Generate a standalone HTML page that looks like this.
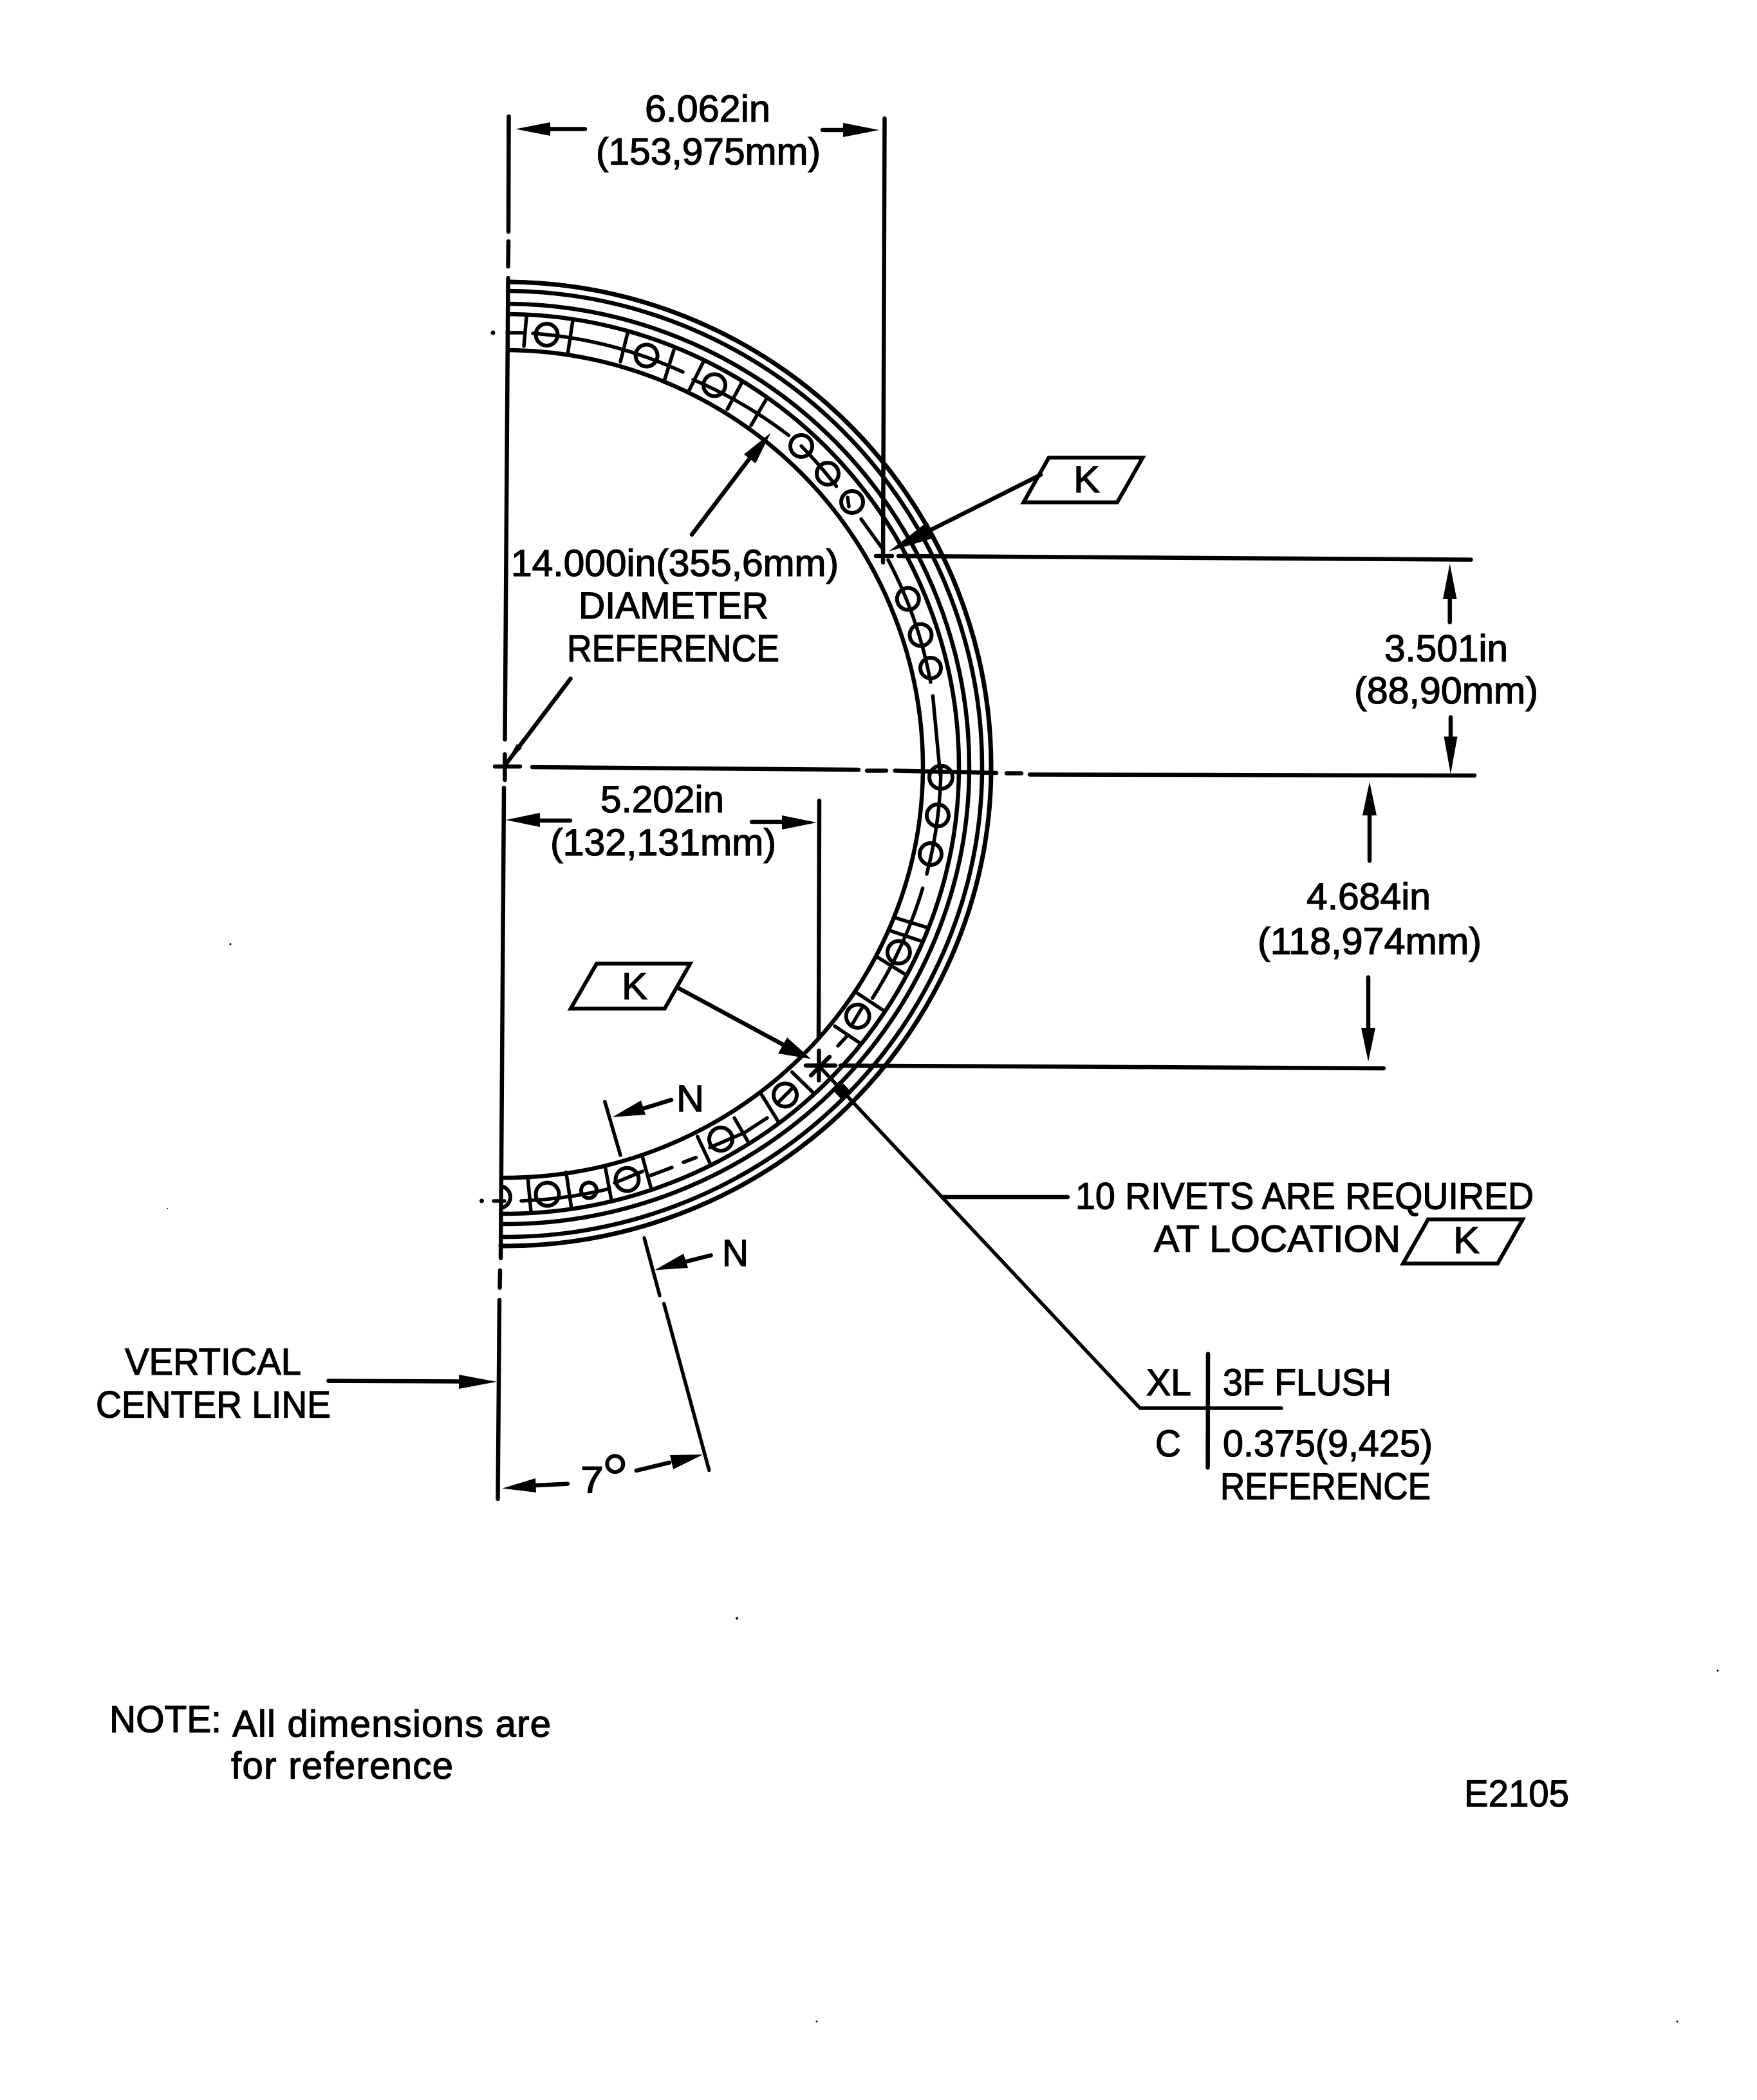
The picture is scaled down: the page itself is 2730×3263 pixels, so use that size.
<!DOCTYPE html>
<html><head><meta charset="utf-8"><style>
html,body{margin:0;padding:0;background:#fff}
svg{display:block}
text{font-family:"Liberation Sans",Arial,sans-serif;font-size:58px;fill:#000;stroke:#000;stroke-width:1.3px}
.l{stroke:#000;stroke-width:6.5;fill:none;stroke-linecap:round}
.t{stroke:#000;stroke-width:5.5;fill:none;stroke-linecap:round}
.c{stroke:#000;stroke-width:6;fill:none}
</style></head><body>
<svg xmlns="http://www.w3.org/2000/svg" width="2730" height="3263" viewBox="0 0 2730 3263">
<rect width="2730" height="3263" fill="#fff"/>

<!-- rings -->
<g transform="rotate(0.47 784 1192)">
<path class="l" style="stroke-width:7" d="M784,438 A756,754 0 0 1 1540,1192 A756,744 0 0 1 784,1936"/>
<path class="l" d="M784,452 A742,740 0 0 1 1526,1192 A742,730 0 0 1 784,1922"/>
<path class="l" d="M784,472 A722,720 0 0 1 1506,1192 A722,710 0 0 1 784,1902"/>
<path class="l" d="M784,488 A706,704 0 0 1 1490,1192 A706,694 0 0 1 784,1886"/>
<path class="l" d="M784,544 A650,648 0 0 1 1434,1192 A650,638 0 0 1 784,1830"/>
</g>

<!-- main vertical center line -->
<path class="l" d="M790.5,181L790,360M790,375L789.5,414M789.5,432L784.5,1149M783,1224L778,1955M777,1974L776.5,2001M776,2020L773.5,2329"/>
<!-- center cross -->
<path class="l" d="M769,1191H808M784.4,1172V1212"/>
<!-- horizontal centre line -->
<path class="l" d="M827,1192L1334,1196M1347,1197.5L1377,1197.5M1390.6,1197.5L1548,1201M1564,1201.5L1587,1201.5M1600,1203.5L2291,1205"/>

<!-- bolt line segments -->
<path class="t" d="M828,518A676,676 0 0 1 1061,578"/>
<path class="t" d="M1077,590A676,676 0 0 1 1225.5,676.5"/>
<path class="t" d="M1245,693A676,676 0 0 1 1299.5,755.6"/>
<path class="t" d="M1317,773L1319,787"/>
<path class="t" d="M1338,806.6L1373,855"/>
<path class="t" d="M1380,870A676,676 0 0 1 1446,1060"/>
<path class="t" d="M1449.4,1081.4L1461,1204"/>
<path class="t" d="M1462,1190A676,676 0 0 1 1440,1358"/>
<path class="t" d="M1433.7,1380A676,676 0 0 1 1355.6,1551"/>
<path class="t" d="M1340,1565L1325,1590M1315,1611L1302,1625M1232,1690L1210,1712"/>
<path class="t" d="M1192,1737L1156.6,1760L1103,1783"/>
<path class="t" d="M1044,1814L1011,1826.5M1081.6,1798.5L1062,1806M998.5,1820L955,1838"/>
<path class="t" d="M947,1847A676,676 0 0 1 810,1866"/>
<path class="t" d="M788,517H811"/>
<path class="t" d="M767,1866H784"/>

<!-- radial ticks -->
<path class="t" d="M818,492L814,538M890,498L882.6,546.5M975.5,516L964,562M1047,544L1033,589M1093,562L1070,608M1154,592L1130,636M1192,618L1167,661
M1391,1426L1440,1441M1384,1446.4L1429.6,1461.7M1363,1487L1406.6,1514M1328.6,1541L1371,1569M1297,1594.4L1335,1620M1230.6,1665.8L1262,1696.4M1183.7,1701.5L1209,1742.3M1141,1737L1161.7,1773M1083.7,1766L1103,1807M998.5,1798.5L1011,1844M940,1811L950,1865M879.6,1821.4L887.8,1876.5M820,1829L825,1882.6"/>

<!-- holes -->
<circle class="c" cx="849.5" cy="520" r="17"/>
<circle class="c" cx="1004.6" cy="552.5" r="17"/>
<circle class="c" cx="1110" cy="598.5" r="17"/>
<circle class="c" cx="1245" cy="693" r="17"/>
<circle class="c" cx="1286" cy="736" r="17"/>
<circle class="c" cx="1324" cy="780" r="17"/>
<circle class="c" cx="1410.8" cy="930.6" r="17"/>
<circle class="c" cx="1430.5" cy="986.7" r="17"/>
<circle class="c" cx="1446" cy="1038" r="16"/>
<circle class="c" cx="1462" cy="1207.7" r="18"/>
<circle class="c" cx="1457" cy="1267" r="17"/>
<circle class="c" cx="1446" cy="1327" r="17"/>
<circle class="c" cx="1396.4" cy="1479.6" r="17.5"/>
<circle class="c" cx="1332.7" cy="1579" r="18"/>
<circle class="c" cx="1220" cy="1701.5" r="18"/>
<circle class="c" cx="1120" cy="1770" r="18"/>
<circle class="c" cx="974.5" cy="1832.7" r="18"/>
<circle class="c" cx="915" cy="1849.5" r="12"/>
<circle class="c" cx="850.5" cy="1855.6" r="18"/>
<path class="c" d="M776,1843A17,17 0 0 1 776,1877"/>

<!-- specks -->
<circle cx="766" cy="517" r="3.5"/>
<circle cx="748.5" cy="1866" r="3.5"/>
<circle cx="358" cy="1467" r="1.5"/>
<circle cx="1145" cy="2514.6" r="2"/>
<circle cx="1269" cy="3141" r="1.5"/>
<circle cx="2606" cy="3141" r="1.5"/>
<circle cx="2669" cy="2596" r="1.5"/>
<circle cx="260" cy="1878" r="1"/>

<!-- top dimension -->
<path class="l" d="M1374.5,184L1372,874"/>
<path class="l" d="M855,200.5H909"/><polygon points="801,200.5 855,190 855,211"/>
<path class="l" d="M1278,202H1320"/><polygon points="1366,202 1310,191 1310,213"/>
<text x="1002" y="189" textLength="195" lengthAdjust="spacingAndGlyphs">6.062in</text>
<text x="926" y="255.6" textLength="349" lengthAdjust="spacingAndGlyphs">(153,975mm)</text>

<!-- diameter -->
<path class="l" d="M1075,830.6L1165,712"/><polygon points="1197.5,672.5 1174,720 1156,706"/>
<path class="l" d="M886.6,1054.5L784.4,1189.4"/><polygon points="784.4,1189.4 803,1156 811,1162"/>
<text x="794" y="895" textLength="509" lengthAdjust="spacingAndGlyphs">14.000in(355,6mm)</text>
<text x="899" y="961" textLength="295" lengthAdjust="spacingAndGlyphs">DIAMETER</text>
<text x="881" y="1027.5" textLength="330" lengthAdjust="spacingAndGlyphs">REFERENCE</text>

<!-- K top -->
<polygon class="c" points="1629.7,711 1775.6,711 1736,780.5 1590.4,780.5"/>
<text x="1668" y="765" textLength="41" lengthAdjust="spacingAndGlyphs">K</text>
<path class="l" d="M1617,737.7L1445,824"/><polygon points="1380.7,857 1441,811 1454,835"/>
<!-- line at K top rivet -->
<path class="l" d="M1361,864H1386M1396,864L2285.6,869.6"/>

<!-- 3.501 -->
<path class="l" d="M2252.7,930V967"/><polygon points="2252.7,875.9 2242,931 2263.5,931"/>
<text x="2151" y="1027.4" textLength="192" lengthAdjust="spacingAndGlyphs">3.501in</text>
<text x="2104" y="1093" textLength="286" lengthAdjust="spacingAndGlyphs">(88,90mm)</text>
<path class="l" d="M2254,1114.4V1146"/><polygon points="2254,1202.8 2243.5,1144.5 2264.5,1144.5"/>

<!-- 4.684 -->
<path class="l" d="M2128,1266V1337.5"/><polygon points="2128,1214.7 2117,1267 2139,1267"/>
<text x="2030" y="1413" textLength="193" lengthAdjust="spacingAndGlyphs">4.684in</text>
<text x="1954" y="1482.7" textLength="348" lengthAdjust="spacingAndGlyphs">(118,974mm)</text>
<path class="l" d="M2126,1518.5V1598"/><polygon points="2126,1649.7 2115,1597 2137,1597"/>
<path class="l" d="M1306,1655.6L2150,1660"/>

<!-- 5.202 -->
<path class="l" d="M1273,1244L1272,1612"/>
<path class="l" d="M839,1275H886"/><polygon points="785.7,1274 839,1263 839,1285"/>
<path class="l" d="M1168,1277H1216"/><polygon points="1269,1278 1215,1267 1215,1289"/>
<text x="933" y="1262" textLength="192" lengthAdjust="spacingAndGlyphs">5.202in</text>
<text x="855" y="1329" textLength="351" lengthAdjust="spacingAndGlyphs">(132,131mm)</text>

<!-- K lower -->
<polygon class="c" points="927,1497.4 1072.4,1497.4 1032.7,1567.3 886.7,1567.3"/>
<text x="966" y="1552.5" textLength="40" lengthAdjust="spacingAndGlyphs">K</text>
<path class="l" d="M1053,1534.7L1222,1626"/><polygon points="1260,1645.4 1209,1637 1223,1612"/>

<!-- star -->
<path class="l" d="M1272.4,1632.6V1678.6M1252,1655.6H1298M1260,1671L1289,1642"/>
<!-- leader to XL -->
<path class="t" d="M1274,1658L1771.4,2188H1991"/>
<polygon points="1307,1680 1320,1694 1307,1708 1294,1694"/>
<path class="l" d="M1877,2103.7L1876.6,2280.5"/>
<text x="1781" y="2168" textLength="70" lengthAdjust="spacingAndGlyphs">XL</text>
<text x="1900" y="2168" textLength="262" lengthAdjust="spacingAndGlyphs">3F FLUSH</text>
<text x="1795" y="2263" textLength="40" lengthAdjust="spacingAndGlyphs">C</text>
<text x="1900" y="2263" textLength="326" lengthAdjust="spacingAndGlyphs">0.375(9,425)</text>
<text x="1896" y="2329.6" textLength="327" lengthAdjust="spacingAndGlyphs">REFERENCE</text>

<!-- rivets note -->
<path class="l" d="M1465,1860H1659"/>
<text x="1671" y="1878.5" textLength="712" lengthAdjust="spacingAndGlyphs">10 RIVETS ARE REQUIRED</text>
<text x="1793" y="1945" textLength="383" lengthAdjust="spacingAndGlyphs">AT LOCATION</text>
<polygon class="c" points="2219,1894.6 2366,1894.6 2327,1963.4 2180,1963.4"/>
<text x="2258" y="1947" textLength="41" lengthAdjust="spacingAndGlyphs">K</text>

<!-- N marks -->
<path class="t" d="M939.8,1711.7L964,1795"/>
<path class="l" d="M1043,1709L1001,1722"/><polygon points="951.5,1735.7 996,1710 1003,1732"/>
<text x="1051" y="1727" textLength="43" lengthAdjust="spacingAndGlyphs">N</text>
<path class="t" d="M1001,1923.5L1025,2013M1031.6,2025.5L1101.8,2284.5"/>
<path class="l" d="M1104.6,1950.5L1067,1960"/><polygon points="1017.3,1973.5 1062,1948 1069,1970"/>
<text x="1122" y="1967" textLength="41" lengthAdjust="spacingAndGlyphs">N</text>

<!-- vertical center line label -->
<text x="194" y="2135.8" textLength="274" lengthAdjust="spacingAndGlyphs">VERTICAL</text>
<text x="149" y="2202.5" textLength="365" lengthAdjust="spacingAndGlyphs">CENTER LINE</text>
<path class="l" d="M510.4,2145.6L715,2146.5"/><polygon points="772,2147 713,2136 713,2158"/>

<!-- 7 deg -->
<path class="l" d="M882,2305.6L832,2308"/><polygon points="780.5,2312.6 832,2297 833,2319"/>
<text x="902" y="2319.6" textLength="36" lengthAdjust="spacingAndGlyphs">7</text>
<circle class="c" cx="955.8" cy="2274.7" r="12.5"/>
<path class="l" d="M988.8,2285L1040,2272.6"/><polygon points="1092.6,2260 1041,2261 1046,2283"/>

<!-- notes -->
<text x="170" y="2691.4" textLength="174" lengthAdjust="spacingAndGlyphs">NOTE:</text>
<text x="361" y="2698.5" textLength="495" lengthAdjust="spacing">All dimensions are</text>
<text x="359" y="2763.7" textLength="345" lengthAdjust="spacing">for reference</text>
<text x="2275" y="2807" textLength="163" lengthAdjust="spacingAndGlyphs">E2105</text>
</svg>
</body></html>
